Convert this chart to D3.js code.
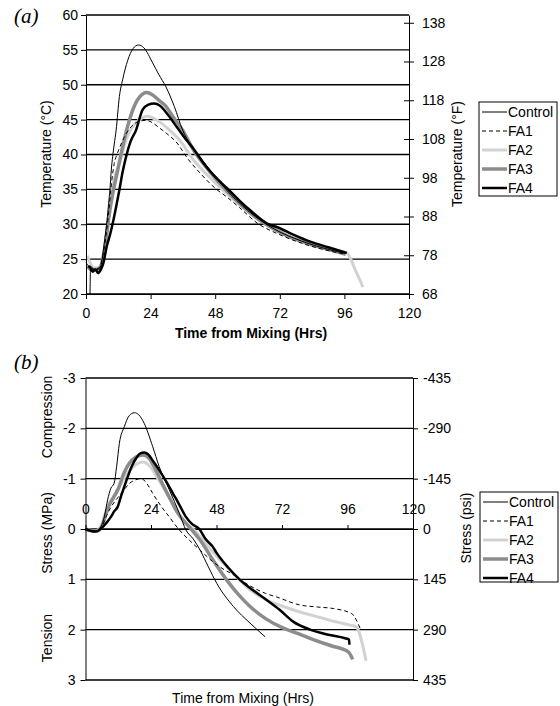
<!DOCTYPE html>
<html>
<head>
<meta charset="utf-8">
<script src="https://cdn.jsdelivr.net/npm/d3@7"></script>
<style>
  body { margin: 0; background: #fff; }
  svg { display: block; font-family: "Liberation Sans", Arial, sans-serif; }
</style>
</head>
<body>
<svg id="chart" width="560" height="706"></svg>
<script>
// ---- data ----
var seriesNames = ["Control", "FA1", "FA2", "FA3", "FA4"];
var timeTicks = [0, 24, 48, 72, 96, 120];
var tempTicksC = [20, 25, 30, 35, 40, 45, 50, 55, 60];
var tempTicksF = [68, 78, 88, 98, 108, 118, 128, 138];
var stressTicks = [-3, -2, -1, 0, 1, 2, 3];
var stressTicksPsi = [-435, -290, -145, 0, 145, 290, 435];

// (a) temperature, [hours, degC]
var tempControl = [[1.5,20],[1.7,24],[3,23.5],[5,23.6],[6,25],[7,28],[7.8,30.5],[8.4,33],[8.9,35],[9.4,37.8],[9.9,39.7],[10.5,41.5],[11.2,43.5],[12.4,48.3],[13.6,50.7],[15.5,53.5],[17.5,55.2],[19.5,55.7],[21.5,55.3],[24.8,53.1],[27,51.5],[29.7,49.7],[32.8,46.9],[35.9,43.5],[39,41.3],[42.4,39.6],[46,37.8],[52,35],[60,32],[70,29.3],[80,27.6],[90,26.4],[96.5,25.8]];
var tempFA1 = [[0,24.5],[1,24],[3,23.5],[5,23.8],[6.5,26],[7.5,28.5],[8.5,32],[9.5,36],[10.5,38.7],[11.5,40],[12.5,41],[14,42.3],[16,43.6],[18,44.4],[20,44.8],[22.3,44.9],[24.5,44.6],[27,43.9],[30,43],[33.5,41.8],[38,39.3],[42,37.5],[48.5,35],[52,34],[57,32.4],[63.5,30.2],[72,28.5],[80,27.3],[88,26.4],[96.5,25.7]];
var tempFA2 = [[0.5,25.5],[1.5,24.5],[3,23.7],[5,23.8],[6.5,25.5],[7.5,28],[8.5,31.5],[9.5,34.5],[10.5,36.5],[12.4,38.7],[14.9,42.1],[17,43.8],[19.5,44.9],[22.9,45.5],[25.5,45.1],[28,44.5],[31,43.5],[34.7,42.1],[40,39.2],[44,37.5],[47.1,36.3],[52,34.5],[57,32.8],[63,31],[68,29.8],[75,28.3],[83,27.1],[90,26.4],[96.9,25.9],[100,23.5],[102.9,21]];
var tempFA3 = [[0.5,24],[2,23.5],[4,23.5],[5.5,24],[6.5,25.5],[7.5,28],[8.5,31],[9.5,33.5],[10.5,35.5],[11.8,37.8],[13.6,41.1],[16.1,44.9],[18,47],[20,48.3],[22.5,48.9],[24.5,48.6],[27,47.8],[29.7,46.9],[32.5,45.3],[35.9,43.5],[40,40.6],[44,38.5],[48,36.6],[52.3,34.8],[57,33],[62,31.3],[68,29.7],[75,28.3],[83,27.2],[90,26.4],[96.5,25.7]];
var tempFA4 = [[0.8,24],[1.5,23.8],[2.5,23.2],[3.5,23.5],[4.5,23],[5.5,23.5],[6.5,24.5],[7.7,26.8],[9,28.6],[10.2,30.6],[11.2,32.5],[12.4,34.9],[13.5,37.3],[14.9,39.7],[16.5,41.8],[18.6,43.5],[21,46.4],[23,47.1],[25.4,47.3],[27.5,47],[31,45.4],[34,43.8],[37.2,42.1],[40,40.8],[43.4,38.9],[47.5,37],[52.3,35.2],[57,33.4],[61,32],[67.8,30],[70.9,29.6],[77,28.5],[83.3,27.5],[90,26.7],[96.9,25.9]];

// (b) stress, [hours, MPa] (negative = compression)
var stressControl = [[0,0],[2,0.03],[4,0.05],[5.7,-0.05],[6.9,-0.24],[8.1,-0.58],[9.3,-0.81],[10.5,-0.91],[11.4,-1.24],[12.4,-1.7],[14.2,-2.03],[16,-2.25],[17.9,-2.31],[19.5,-2.27],[21.5,-2.1],[24.6,-1.64],[27,-1.24],[30.7,-0.78],[34.4,-0.31],[36.8,0.02],[39.5,0.2],[42,0.42],[45,0.75],[48.1,1.08],[54.2,1.54],[60.3,1.87],[65.8,2.14]];
var stressFA1 = [[0,0],[2,0.03],[4,0.04],[6,-0.05],[8,-0.3],[9.5,-0.45],[11.2,-0.58],[13.6,-0.74],[16,-0.9],[18.5,-0.98],[20.5,-1.0],[22.5,-0.9],[24.6,-0.71],[27.5,-0.47],[30.7,-0.24],[34.4,0.02],[38,0.22],[42,0.42],[46,0.62],[50,0.78],[54.2,0.91],[60,1.12],[66,1.28],[70,1.35],[78.6,1.51],[85,1.55],[90.8,1.58],[97.5,1.68],[100.6,1.97]];
var stressFA2 = [[0,0],[2,0.03],[4,0.03],[6,-0.1],[7.5,-0.35],[8.5,-0.5],[10,-0.62],[12,-0.8],[14,-1.0],[16.5,-1.18],[19,-1.3],[21.2,-1.33],[23.5,-1.25],[26,-1.05],[29,-0.78],[32,-0.5],[34,-0.33],[36,-0.15],[39,-0.02],[42,0.15],[46,0.42],[50,0.65],[54.2,0.88],[60.3,1.21],[66,1.4],[72.5,1.54],[78,1.64],[84.7,1.74],[90,1.82],[96.9,1.91],[99.1,1.94],[102.8,2.62]];
var stressFA3 = [[0,0],[2,0.03],[4,0.04],[6,-0.05],[7.5,-0.3],[8.5,-0.45],[10,-0.6],[12,-0.8],[14,-1.1],[16,-1.3],[18.5,-1.43],[21,-1.47],[23,-1.42],[25.5,-1.2],[28,-0.92],[31,-0.6],[34,-0.3],[37,-0.1],[39.5,0.05],[42,0.22],[46.5,0.6],[51.7,1.01],[56,1.3],[60.3,1.54],[66,1.78],[72.5,1.97],[78,2.08],[83.5,2.2],[90,2.32],[96.3,2.44],[97.9,2.59]];
var stressFA4 = [[0,0],[2,0.04],[3.8,0.05],[5.5,0],[7.5,-0.11],[9.3,-0.24],[10.5,-0.35],[11.8,-0.44],[13,-0.65],[14.2,-0.84],[15.5,-1.04],[17,-1.25],[18.5,-1.4],[20,-1.5],[21.5,-1.52],[23,-1.48],[25,-1.33],[27,-1.17],[29.5,-0.95],[32,-0.71],[34.5,-0.47],[36.8,-0.24],[39,-0.1],[41.7,0],[44,0.2],[46.6,0.35],[48.1,0.48],[52,0.75],[56.6,1.01],[61,1.2],[66.4,1.41],[71,1.6],[76.1,1.84],[82.3,2],[89,2.1],[95.1,2.17],[96.6,2.2],[96.7,2.3]];

var tempData = { Control: tempControl, FA1: tempFA1, FA2: tempFA2, FA3: tempFA3, FA4: tempFA4 };
var stressData = { Control: stressControl, FA1: stressFA1, FA2: stressFA2, FA3: stressFA3, FA4: stressFA4 };

// ---- styling ----
var styles = {
  Control: { stroke: "#000", width: 1, dash: null },
  FA1: { stroke: "#000", width: 1, dash: "4,3" },
  FA2: { stroke: "#d2d2d2", width: 3, dash: null },
  FA3: { stroke: "#8c8c8c", width: 3.5, dash: null },
  FA4: { stroke: "#000", width: 2.5, dash: null }
};
var drawOrder = ["FA2", "FA3", "FA1", "FA4", "Control"];

var svg = d3.select("#chart");

function styleAxis(g) {
  g.attr("font-family", "'Liberation Sans', Arial, sans-serif")
    .attr("font-size", 14);
  g.selectAll("text").attr("fill", "#000");
  g.selectAll("line,path").attr("stroke", "#000");
}

function drawGrid(g, x, y, ticks) {
  g.selectAll(".grid")
    .data(ticks)
    .enter()
    .append("line")
    .attr("x1", x(0))
    .attr("x2", x(120))
    .attr("y1", function(d) { return y(d); })
    .attr("y2", function(d) { return y(d); })
    .attr("stroke", "#000")
    .attr("stroke-width", 1.3);
}

function drawSeries(g, x, y, data) {
  var line = d3.line()
    .x(function(d) { return x(d[0]); })
    .y(function(d) { return y(d[1]); })
    .curve(d3.curveMonotoneX);

  drawOrder.forEach(function(name) {
    var s = styles[name];
    g.append("path")
      .attr("d", line(data[name]))
      .attr("fill", "none")
      .attr("stroke", s.stroke)
      .attr("stroke-width", s.width)
      .attr("stroke-dasharray", s.dash)
      .attr("stroke-linejoin", "round");
  });
}

function drawLegend(x0, y0, w, h) {
  var g = svg.append("g").attr("transform", "translate(" + x0 + "," + y0 + ")");
  g.append("rect")
    .attr("x", 0).attr("y", 0)
    .attr("width", w).attr("height", h)
    .attr("fill", "#fff")
    .attr("stroke", "#000")
    .attr("stroke-width", 1);

  var rows = g.selectAll(".row")
    .data(seriesNames)
    .enter()
    .append("g")
    .attr("transform", function(d, i) { return "translate(0," + (10 + i * 19) + ")"; });

  rows.append("line")
    .attr("x1", 3).attr("x2", 28)
    .attr("y1", 0).attr("y2", 0)
    .attr("stroke", function(d) { return styles[d].stroke; })
    .attr("stroke-width", function(d) { return styles[d].width; })
    .attr("stroke-dasharray", function(d) { return styles[d].dash; });

  rows.append("text")
    .attr("x", 29)
    .attr("y", 0)
    .attr("dy", "0.35em")
    .attr("font-size", 14)
    .text(function(d) { return d; });
}

function vLabel(x, y, txt, size) {
  svg.append("text")
    .attr("transform", "translate(" + x + "," + y + ") rotate(-90)")
    .attr("text-anchor", "middle")
    .attr("dy", "0.35em")
    .attr("font-size", size || 14)
    .text(txt);
}

// ---- panel (a) ----
var xA = d3.scaleLinear().domain([0, 120]).range([86, 409]);
var yA = d3.scaleLinear().domain([20, 60]).range([294, 15]);
var yAF = d3.scaleLinear().domain([68, 140]).range([294, 15]);

var gA = svg.append("g");
drawGrid(gA, xA, yA, tempTicksC);
drawSeries(gA, xA, yA, tempData);

gA.append("g")
  .attr("transform", "translate(0," + yA(20) + ")")
  .call(d3.axisBottom(xA).tickValues(timeTicks).tickSize(5).tickSizeOuter(0).tickPadding(9))
  .call(styleAxis);

gA.append("g")
  .attr("transform", "translate(" + xA(0) + ",0)")
  .call(d3.axisLeft(yA).tickValues(tempTicksC).tickSize(5).tickSizeOuter(0).tickPadding(3))
  .call(styleAxis);

var rightA = gA.append("g")
  .attr("transform", "translate(" + xA(120) + ",0)")
  .call(d3.axisRight(yAF).tickValues(tempTicksF).tickSize(5).tickSizeOuter(0).tickPadding(8))
  .call(styleAxis);
rightA.selectAll(".tick line").attr("x1", -5);

svg.append("text")
  .attr("x", 14).attr("y", 23)
  .attr("font-family", "'Liberation Serif', 'Times New Roman', serif")
  .attr("font-style", "italic")
  .attr("font-size", 21)
  .text("(a)");

vLabel(46, 154, "Temperature (°C)");
vLabel(457, 154, "Temperature (°F)");

svg.append("text")
  .attr("x", 251).attr("y", 333)
  .attr("text-anchor", "middle")
  .attr("dy", "0.35em")
  .attr("font-size", 14)
  .attr("font-weight", "bold")
  .text("Time from Mixing (Hrs)");

drawLegend(479, 102, 78, 94);

// ---- panel (b) ----
var xB = d3.scaleLinear().domain([0, 120]).range([85.5, 413]);
var yB = d3.scaleLinear().domain([-3, 3]).range([378, 680]);
var yBpsi = d3.scaleLinear().domain([-435, 435]).range([378, 680]);

var gB = svg.append("g");
drawGrid(gB, xB, yB, stressTicks);

gB.append("g")
  .attr("transform", "translate(0," + yB(0) + ")")
  .call(d3.axisTop(xB).tickValues(timeTicks).tickSize(4).tickSizeOuter(0).tickPadding(11))
  .call(styleAxis);

drawSeries(gB, xB, yB, stressData);

gB.append("g")
  .attr("transform", "translate(" + xB(0) + ",0)")
  .call(d3.axisLeft(yB).tickValues(stressTicks).tickFormat(function(d) { return String(d); })
    .tickSize(5).tickSizeOuter(0).tickPadding(5))
  .call(styleAxis);

gB.append("g")
  .attr("transform", "translate(" + xB(120) + ",0)")
  .call(d3.axisRight(yBpsi).tickValues(stressTicksPsi).tickFormat(function(d) { return String(d); })
    .tickSize(5).tickSizeOuter(0).tickPadding(5))
  .call(styleAxis);

svg.append("text")
  .attr("x", 14).attr("y", 369)
  .attr("font-family", "'Liberation Serif', 'Times New Roman', serif")
  .attr("font-style", "italic")
  .attr("font-size", 21)
  .text("(b)");

vLabel(47, 417, "Compression");
vLabel(47, 533, "Stress (MPa)");
vLabel(47, 638, "Tension");
vLabel(466, 528, "Stress (psi)");

svg.append("text")
  .attr("x", 243).attr("y", 698)
  .attr("text-anchor", "middle")
  .attr("dy", "0.35em")
  .attr("font-size", 14)
  .text("Time from Mixing (Hrs)");

drawLegend(480, 492, 78, 90);
</script>
</body>
</html>
